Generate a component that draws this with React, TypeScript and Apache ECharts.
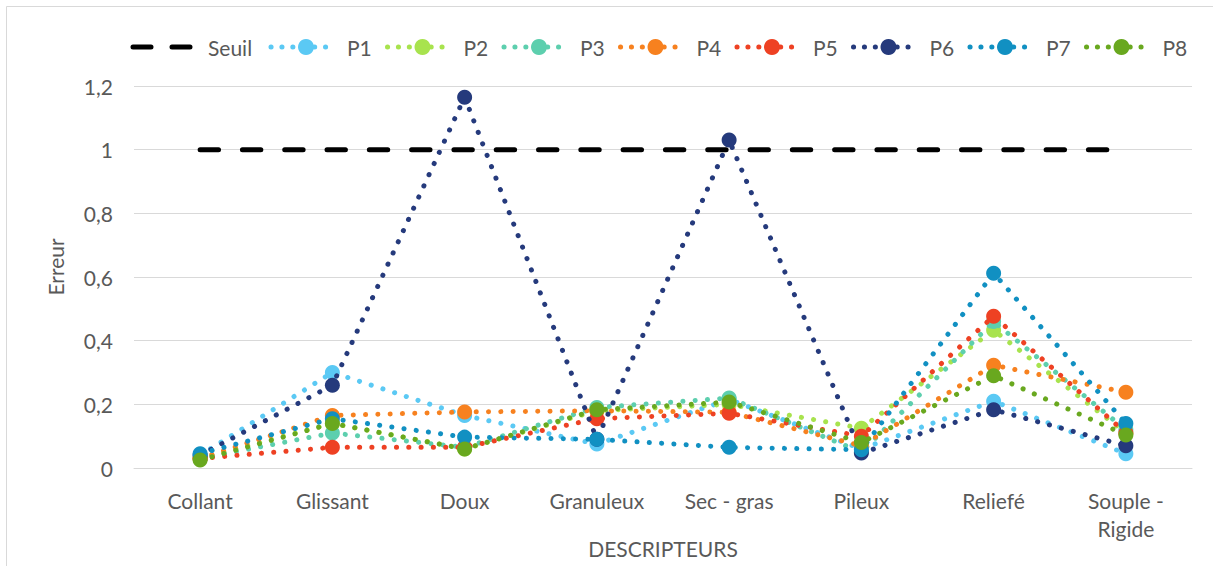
import React, { useEffect, useRef } from "react";
import * as echarts from "echarts";

const categories = ["Collant", "Glissant", "Doux", "Granuleux", "Sec - gras", "Pileux", "Reliefé", "Souple -\nRigide"];
const seuil = [1, 1, 1, 1, 1, 1, 1, 1];
const p1 = [0.04, 0.3, 0.165, 0.075, 0.215, 0.06, 0.21, 0.045];
const p2 = [0.03, 0.14, 0.06, 0.18, 0.2, 0.125, 0.433, 0.11];
const p3 = [0.03, 0.11, 0.065, 0.19, 0.22, 0.05, 0.46, 0.12];
const p4 = [0.03, 0.165, 0.176, 0.18, 0.175, 0.07, 0.323, 0.238];
const p5 = [0.03, 0.065, 0.065, 0.155, 0.172, 0.1, 0.477, 0.11];
const p6 = [0.04, 0.26, 1.165, 0.09, 1.03, 0.047, 0.183, 0.07];
const p7 = [0.045, 0.155, 0.097, 0.09, 0.065, 0.057, 0.612, 0.14];
const p8 = [0.025, 0.14, 0.06, 0.183, 0.207, 0.08, 0.29, 0.104];

const seriesNames = ["P1", "P2", "P3", "P4", "P5", "P6", "P7", "P8"];
const seriesData = [p1, p2, p3, p4, p5, p6, p7, p8];
const seriesColors = ["#5bc9f4", "#a8e34e", "#5dcfae", "#f7811f", "#ee4123", "#253a7c", "#1190c2", "#69a81f"];

const FONT = "Lato, 'Open Sans', sans-serif";
const TXT = "#595959";
const FS = 21;
const DOTS = [0.1, 12.2];

function buildLegend(): any[] {
  const els: any[] = [];
  const cy = 47;
  els.push({
    type: "line",
    silent: true,
    shape: { x1: 133, y1: cy, x2: 196, y2: cy },
    style: { stroke: "#000000", lineWidth: 5, lineDash: [18, 21], lineCap: "round" },
  });
  els.push({
    type: "text",
    silent: true,
    x: 208,
    y: cy,
    style: { text: "Seuil", fill: TXT, font: `${FS}px ${FONT}`, verticalAlign: "middle", align: "left" },
  });
  seriesNames.forEach((n, i) => {
    const mx = 306 + i * 116.5;
    els.push({
      type: "line",
      silent: true,
      shape: { x1: mx - 35, y1: cy, x2: mx + 30, y2: cy },
      style: { stroke: seriesColors[i], lineWidth: 5, lineDash: [0.1, 10.8], lineCap: "round" },
    });
    els.push({
      type: "circle",
      silent: true,
      shape: { cx: mx, cy, r: 8 },
      style: { fill: seriesColors[i] },
    });
    els.push({
      type: "text",
      silent: true,
      x: mx + 41,
      y: cy,
      style: { text: n, fill: TXT, font: `${FS}px ${FONT}`, verticalAlign: "middle", align: "left" },
    });
  });
  return els;
}

export default function App() {
  const ref = useRef<HTMLDivElement>(null);
  useEffect(() => {
    if (!ref.current) return;
    const chart = echarts.init(ref.current, undefined, { renderer: "svg" });
    const series: any[] = [
      {
        name: "Seuil",
        type: "line",
        data: seuil,
        showSymbol: false,
        symbol: "none",
        lineStyle: { color: "#000000", width: 5, type: [18.4, 23.9], cap: "round" },
        itemStyle: { color: "#000000" },
        z: 1,
      },
    ];
    seriesNames.forEach((n, i) => {
      series.push({
        name: n,
        type: "line",
        data: seriesData[i],
        symbol: "circle",
        symbolSize: 15,
        showSymbol: true,
        lineStyle: { color: seriesColors[i], width: 5, type: DOTS, cap: "round" },
        itemStyle: { color: seriesColors[i] },
        z: 2 + i,
      });
    });
    chart.setOption({
      animation: false,
      textStyle: { fontFamily: FONT },
      graphic: [
        {
          type: "rect",
          silent: true,
          shape: { x: 6.5, y: 6.5, width: 1400, height: 800 },
          style: { fill: "none", stroke: "#d9d9d9", lineWidth: 1 },
        },
        ...buildLegend(),
      ],
      grid: { left: 134, right: 21, top: 86, bottom: 98, containLabel: false, outerBoundsMode: "none" },
      xAxis: {
        type: "category",
        data: categories,
        boundaryGap: true,
        name: "DESCRIPTEURS",
        nameLocation: "middle",
        nameGap: 80,
        nameMoveOverlap: false,
        nameTextStyle: { color: TXT, fontSize: FS, fontFamily: FONT, verticalAlign: "middle" },
        axisLine: { lineStyle: { color: "#d9d9d9", width: 1 } },
        axisTick: { show: false },
        axisLabel: { color: TXT, fontSize: FS, fontFamily: FONT, margin: 18, lineHeight: 28, interval: 0 },
      },
      yAxis: {
        type: "value",
        min: 0,
        max: 1.2,
        interval: 0.2,
        name: "Erreur",
        nameLocation: "middle",
        nameGap: 68,
        nameRotate: 90,
        nameMoveOverlap: false,
        nameTextStyle: { color: TXT, fontSize: FS, fontFamily: FONT, padding: [0, 0, 0, 20] },
        axisLine: { show: false },
        axisTick: { show: false },
        splitLine: { lineStyle: { color: "#d9d9d9", width: 1 } },
        axisLabel: {
          color: TXT,
          fontSize: FS,
          fontFamily: FONT,
          margin: 21,
          formatter: (v: number) => String(Math.round(v * 10) / 10).replace(".", ","),
        },
      },
      series,
    });
    return () => chart.dispose();
  }, []);
  return (
    <div
      ref={ref}
      style={{ position: "fixed", left: 0, top: 0, width: 1213, height: 566, background: "#ffffff" }}
    />
  );
}
